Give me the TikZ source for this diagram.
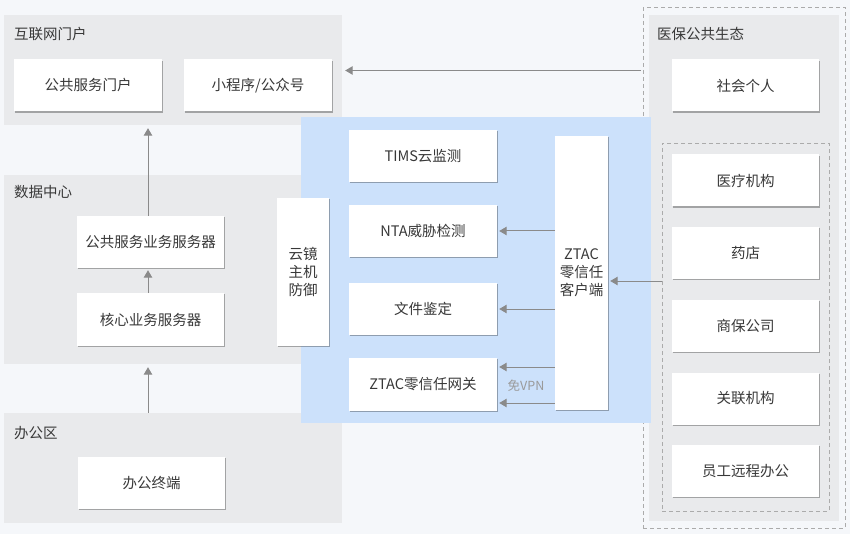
\documentclass[tikz,border=0pt]{standalone}
\usepackage{fontspec}
\setmainfont{Noto Sans CJK SC}
\usetikzlibrary{arrows.meta,shadows}
\definecolor{bgc}{HTML}{F5F7FA}
\definecolor{panelc}{HTML}{E9EAEC}
\definecolor{zblue}{HTML}{CCE1FB}
\definecolor{txtc}{HTML}{383838}
\definecolor{arrc}{HTML}{8A8A8A}
\definecolor{dashc}{HTML}{ABABAB}
\definecolor{vpnc}{HTML}{9A9A9A}
\begin{document}
\begin{tikzpicture}[x=1pt,y=-1pt,
  font=\fontsize{14.5}{18}\selectfont,
  box/.style={fill=white, text=txtc, minimum width=148pt, minimum height=52pt, inner sep=0pt, align=center,
    drop shadow={shadow xshift=0.6pt, shadow yshift=-1.3pt, opacity=0.3, fill=black}},
  panel/.style={fill=panelc, draw=none, inner sep=0pt},
  dbox/.style={draw=dashc, dashed, dash pattern=on 4pt off 3pt, line width=0.8pt, inner sep=0pt},
  ttl/.style={text=txtc, anchor=west, inner sep=0pt},
  arr/.style={draw=arrc, line width=1pt, -{Triangle[width=8.5pt,length=7.5pt]}}]
\useasboundingbox (0,0) rectangle (850,534);
\fill[bgc] (0,0) rectangle (850,534);

% left panels
\node[panel, minimum width=338pt, minimum height=110pt] (pA) at (173,70) {};
\node[panel, minimum width=338pt, minimum height=189pt] (pB) at (173,269.5) {};
\node[panel, minimum width=338pt, minimum height=110pt] (pC) at (173,468) {};
\node[ttl] (tA) at (14,34) {互联网门户};
\node[ttl] (tB) at (14,192) {数据中心};
\node[ttl] (tC) at (14,433) {办公区};

% right side
\node[dbox, minimum width=202pt, minimum height=520.5pt] (rout) at (744,267.75) {};
\node[panel, minimum width=190pt, minimum height=506pt] (rpan) at (744,268) {};
\node[dbox, minimum width=167pt, minimum height=368pt] (rin) at (745.5,327) {};
\node[ttl] (tR) at (657,34) {医保公共生态};

% blue area
\node[fill=zblue, inner sep=0pt, minimum width=350pt, minimum height=306pt] (blu) at (476,270) {};

% left boxes
\node[box] (p1) at (88,85.5) {公共服务门户};
\node[box] (p2) at (258,85.5) {小程序/公众号};
\node[box, minimum width=147pt] (s1) at (150.5,242) {公共服务业务服务器};
\node[box, minimum width=147pt, minimum height=53pt] (s2) at (150.5,319.5) {核心业务服务器};
\node[box, minimum width=147pt] (o1) at (151.5,483) {办公终端};

% middle
\node[box, minimum width=52pt, minimum height=148pt] (yj) at (303,272) {云镜\\主机\\防御};
\node[box] (tims) at (423,156) {TIMS云监测};
\node[box] (nta) at (423,231) {NTA威胁检测};
\node[box] (file) at (423,309) {文件鉴定};
\node[box, minimum height=53pt] (gw) at (423,384.5) {ZTAC零信任网关};
\node[box, minimum width=53pt, minimum height=274pt] (cli) at (581.5,273) {ZTAC\\零信任\\客户端};
\node[text=vpnc, font=\fontsize{12.5}{14}\selectfont, inner sep=0pt] (vpn) at (526,386) {免VPN};

% right boxes
\node[box, minimum width=147pt] (r0) at (745.5,85.5) {社会个人};
\node[box, minimum width=147pt] (r1) at (745.5,180.5) {医疗机构};
\node[box, minimum width=147pt] (r2) at (745.5,253) {药店};
\node[box, minimum width=147pt] (r3) at (745.5,326) {商保公司};
\node[box, minimum width=147pt] (r4) at (745.5,398.5) {关联机构};
\node[box, minimum width=147pt] (r5) at (745.5,471) {员工远程办公};

% connectors
\coordinate (ax) at (148,0);
\coordinate (rs) at (641,70.5);
\coordinate (ci) at (0,281);
\draw[arr, shorten >=3pt] (s1.north -| ax) -- (pA.south -| ax);
\draw[arr, shorten >=2pt] (s2.north -| ax) -- (s1.south -| ax);
\draw[arr, shorten >=3pt] (pC.north -| ax) -- (pB.south -| ax);
\draw[arr, shorten >=3pt] (rs) -- (pA.east |- rs);
\draw[arr, shorten >=2pt] (rin.west |- ci) -- (cli.east |- ci);
\draw[arr, shorten >=2pt] (cli.west |- nta.east) -- (nta.east);
\draw[arr, shorten >=2pt] (cli.west |- file.east) -- (file.east);
\coordinate (g1) at (0,367);
\coordinate (g2) at (0,403);
\draw[arr, shorten >=2pt] (cli.west |- g1) -- (gw.east |- g1);
\draw[arr, shorten >=2pt] (cli.west |- g2) -- (gw.east |- g2);
\end{tikzpicture}
\end{document}
